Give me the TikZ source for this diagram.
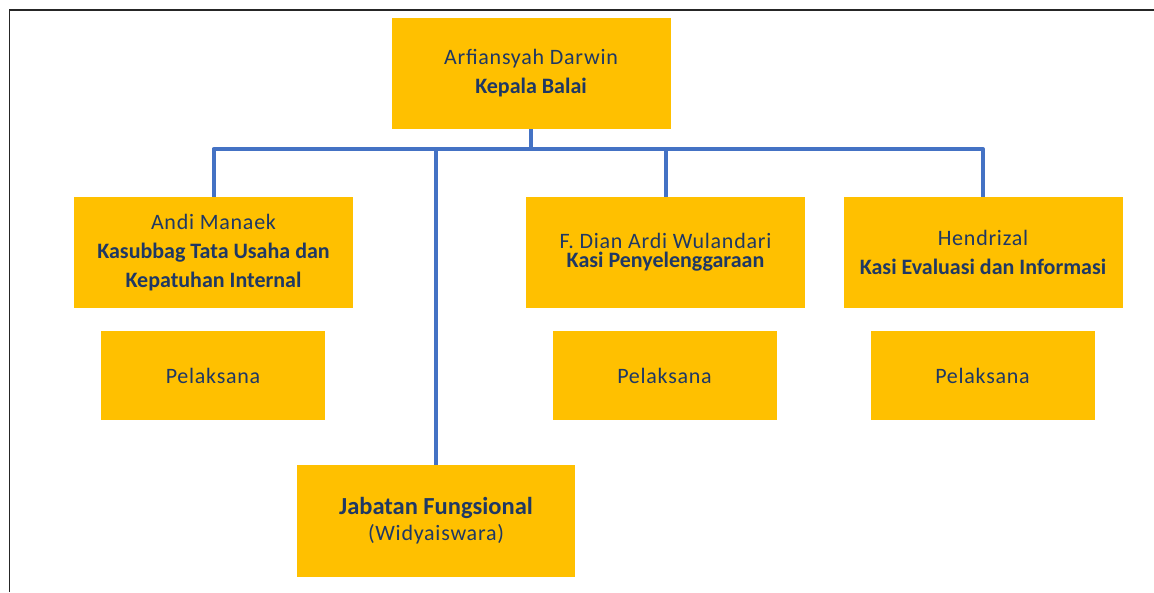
\documentclass[tikz,border=0pt]{standalone}
\usepackage{fontspec}
\setmainfont{Carlito}[LetterSpace=3.4, BoldFeatures={LetterSpace=0}]
\usepackage{tikz}
\definecolor{boxgold}{HTML}{FFC000}
\definecolor{linkblue}{HTML}{4472C4}
\definecolor{textnavy}{HTML}{1F3864}
\tikzset{
  unitbox/.style={fill=boxgold, text=textnavy, inner sep=0pt, minimum width=279pt, minimum height=111pt, align=center, font=\fontsize{22}{29}\selectfont},
  plkbox/.style={unitbox, minimum width=224pt, minimum height=89pt},
  link/.style={draw=linkblue, line width=4pt, line join=round}
}

\begin{document}
\begin{tikzpicture}[x=1pt, y=-1pt]
		\useasboundingbox (0, 0) rectangle (1154, 592);
		%%%%% START %%%%%
		\draw[line width=1.5pt, black!85] (9.5, 592) -- (9.5, 10) -- (1154, 10);
		
		\node[unitbox] (kepala) at (531, 73.5) {Arfiansyah Darwin\\\textbf{Kepala Balai}};
		
		\node[unitbox] (tu) at (213.5, 252.5) {Andi Manaek\\\textbf{Kasubbag Tata Usaha dan}\\\textbf{Kepatuhan Internal}};
		\node[unitbox] (sel) at (665.5, 252.5) {F. Dian Ardi Wulandari\\[-10pt]\textbf{Kasi Penyelenggaraan}};
		\node[unitbox] (evin) at (983, 252.5) {Hendrizal\\\textbf{Kasi Evaluasi dan Informasi}};
		
		\node[plkbox] (plkTU) at (213, 375.5) {Pelaksana};
		\node[plkbox] (plkSel) at (664.5, 375.5) {Pelaksana};
		\node[plkbox] (plkEv) at (982.5, 375.5) {Pelaksana};
		
		\node[unitbox, minimum width=278pt, minimum height=112pt] (jafung) at (436, 521) {{\fontsize{24.5}{29}\selectfont\textbf{Jabatan Fungsional}}\\[-3pt](Widyaiswara)};
		
		\coordinate (bus) at (531, 149);
		\draw[link] (kepala.south) -- (bus);
		\draw[link] (tu.north) |- (bus) -| (evin.north);
		\draw[link] (sel.north) -- (sel.north |- bus);
		\draw[link] (jafung.north) -- (jafung.north |- bus);
		%%%%% END %%%%%
\end{tikzpicture}
\end{document}
